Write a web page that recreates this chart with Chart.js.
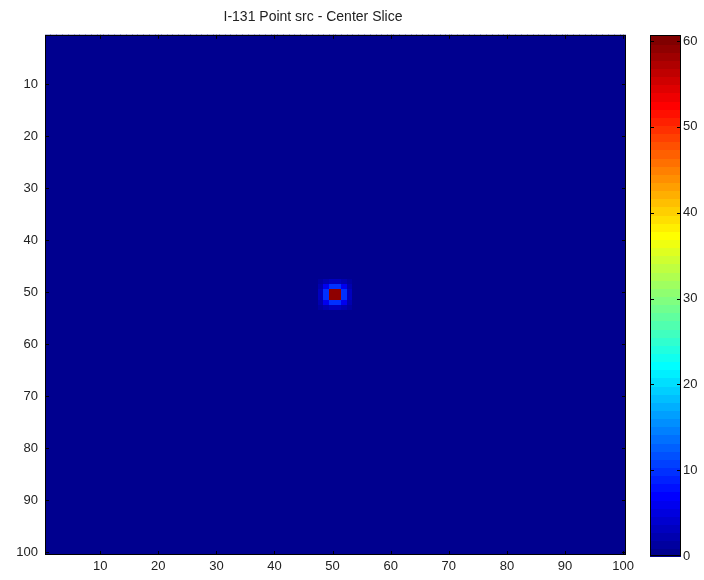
<!DOCTYPE html>
<html>
<head>
<meta charset="utf-8">
<script src="https://cdn.jsdelivr.net/npm/chart.js@4.4.1/dist/chart.umd.min.js"></script>
<style>
  body { margin: 0; background: #fff; }
  #wrap { position: relative; width: 704px; height: 580px; }
  #main { position: absolute; left: 0; top: 0; }
  #cbar { position: absolute; left: 640px; top: 0; }
</style>
</head>
<body>
<div id="wrap">
  <canvas id="main" width="640" height="580"></canvas>
  <canvas id="cbar" width="64" height="580"></canvas>
</div>
<script>
// --------------------------
// データ
// --------------------------
const titleText = 'I-131 Point src - Center Slice';
const nCols = 100;
const nRows = 100;
const xTicks = [10, 20, 30, 40, 50, 60, 70, 80, 90, 100];
const yTicks = [10, 20, 30, 40, 50, 60, 70, 80, 90, 100];
const cbTicks = [0, 10, 20, 30, 40, 50, 60];
const cbMin = 0;
const cbMax = 60.7;

// 中心付近の値（行 48〜53, 列 48〜53）、それ以外は 0
const spotRow0 = 48;
const spotCol0 = 48;
const spotValues = [
  [1, 2, 3, 3, 2, 1],
  [2, 6, 10, 10, 6, 2],
  [3, 10, 59, 59, 10, 3],
  [3, 10, 59, 59, 10, 3],
  [2, 6, 10, 10, 6, 2],
  [1, 2, 3, 3, 2, 1]
];

function cellValue(r, c) {
  const i = r - spotRow0, j = c - spotCol0;
  if (i >= 0 && i < spotValues.length && j >= 0 && j < spotValues[0].length) return spotValues[i][j];
  return 0;
}

// jet(64) カラーマップ
function jet(v) {
  let t = (v - cbMin) / (cbMax - cbMin);
  let idx = Math.min(63, Math.max(0, Math.floor(t * 64)));
  t = (idx + 1) / 64;
  const cl = x => Math.round(255 * Math.max(0, Math.min(1, x)));
  const r = cl(1.5 - Math.abs(4 * t - 3));
  const g = cl(1.5 - Math.abs(4 * t - 2));
  const b = cl(1.5 - Math.abs(4 * t - 1));
  return `rgb(${r},${g},${b})`;
}

const tickFont = { family: 'Liberation Sans, Arial, sans-serif', size: 13 };
const tickColor = '#222';

// 内向きの目盛りと枠線
function drawFrame(ctx, area, scales, tickLen) {
  ctx.save();
  ctx.strokeStyle = '#000';
  ctx.lineWidth = 1;
  ctx.beginPath();
  (scales.x ? scales.x.ticks : []).forEach(t => {
    const px = Math.round(scales.x.getPixelForValue(t.value)) + 0.5;
    ctx.moveTo(px, area.bottom); ctx.lineTo(px, area.bottom - tickLen);
    ctx.moveTo(px, area.top); ctx.lineTo(px, area.top + tickLen);
  });
  scales.y.ticks.forEach(t => {
    const py = Math.round(scales.y.getPixelForValue(t.value)) + 0.5;
    ctx.moveTo(area.left, py); ctx.lineTo(area.left + tickLen, py);
    ctx.moveTo(area.right, py); ctx.lineTo(area.right - tickLen, py);
  });
  ctx.stroke();
  ctx.strokeRect(Math.round(area.left) + 0.5, Math.round(area.top) + 0.5,
    Math.round(area.right - area.left) - 1, Math.round(area.bottom - area.top) - 1);
  ctx.restore();
}

const heatmapPlugin = {
  id: 'heatmap',
  beforeDatasetsDraw(chart) {
    const { ctx, chartArea: a, scales: { x, y } } = chart;
    ctx.save();
    ctx.beginPath();
    ctx.rect(a.left, a.top, a.right - a.left, a.bottom - a.top);
    ctx.clip();
    for (let r = 1; r <= nRows; r++) {
      const y0 = y.getPixelForValue(r - 0.5), y1 = y.getPixelForValue(r + 0.5);
      for (let c = 1; c <= nCols; c++) {
        const x0 = x.getPixelForValue(c - 0.5), x1 = x.getPixelForValue(c + 0.5);
        ctx.fillStyle = jet(cellValue(r, c));
        ctx.fillRect(Math.floor(x0), Math.floor(Math.min(y0, y1)),
          Math.ceil(x1) - Math.floor(x0), Math.ceil(Math.abs(y1 - y0)) + 1);
      }
    }
    ctx.restore();
  },
  afterDraw(chart) {
    drawFrame(chart.ctx, chart.chartArea, chart.scales, 4);
  }
};

new Chart(document.getElementById('main'), {
  type: 'scatter',
  data: { datasets: [{ data: [] }] },
  options: {
    responsive: false,
    animation: false,
    devicePixelRatio: 1,
    layout: { padding: { top: 0, right: 14, bottom: 0, left: 0 } },
    plugins: {
      legend: { display: false },
      tooltip: { enabled: false },
      title: {
        display: true,
        text: titleText,
        color: tickColor,
        font: { family: 'Liberation Sans, Arial, sans-serif', size: 14, weight: 'normal' },
        padding: { top: 9, bottom: 9 }
      }
    },
    scales: {
      x: {
        type: 'linear', min: 0.5, max: nCols + 0.5,
        grid: { display: false, drawTicks: false }, border: { display: false },
        ticks: { color: tickColor, font: tickFont, padding: 4, maxRotation: 0 },
        afterBuildTicks: s => { s.ticks = xTicks.map(v => ({ value: v })); },
        afterFit: s => { s.height = 25; }
      },
      y: {
        type: 'linear', min: 0.5, max: nRows + 0.5, reverse: true,
        grid: { display: false, drawTicks: false }, border: { display: false },
        ticks: { color: tickColor, font: tickFont, padding: 7 },
        afterBuildTicks: s => { s.ticks = yTicks.map(v => ({ value: v })); },
        afterFit: s => { s.width = 45; }
      }
    }
  },
  plugins: [heatmapPlugin]
});

// --------------------------
// カラーバー
// --------------------------
const colorbarPlugin = {
  id: 'colorbar',
  beforeDatasetsDraw(chart) {
    const { ctx, chartArea: a, scales: { y } } = chart;
    ctx.save();
    for (let i = 0; i < 64; i++) {
      const v0 = cbMin + (cbMax - cbMin) * i / 64;
      const v1 = cbMin + (cbMax - cbMin) * (i + 1) / 64;
      const p0 = y.getPixelForValue(v0), p1 = y.getPixelForValue(v1);
      ctx.fillStyle = jet((v0 + v1) / 2);
      ctx.fillRect(a.left, Math.floor(p1), a.right - a.left, Math.ceil(p0) - Math.floor(p1) + 1);
    }
    ctx.restore();
  },
  afterDraw(chart) {
    const s = { y: chart.scales.y };
    s.y.ticks = s.y.ticks.filter(t => t.value > cbMin);
    drawFrame(chart.ctx, chart.chartArea, s, 4);
  }
};

new Chart(document.getElementById('cbar'), {
  type: 'bar',
  data: { labels: [''], datasets: [{ data: [] }] },
  options: {
    responsive: false,
    animation: false,
    devicePixelRatio: 1,
    layout: { padding: { top: 35, right: 0, bottom: 24, left: 10 } },
    plugins: { legend: { display: false }, tooltip: { enabled: false } },
    scales: {
      x: { display: false },
      y: {
        position: 'right',
        min: cbMin, max: cbMax,
        grid: { display: false, drawTicks: false }, border: { display: false },
        ticks: { color: tickColor, font: tickFont, padding: 2 },
        afterBuildTicks: s => { s.ticks = cbTicks.map(v => ({ value: v })); },
        afterFit: s => { s.width = 23; }
      }
    }
  },
  plugins: [colorbarPlugin]
});
</script>
</body>
</html>
